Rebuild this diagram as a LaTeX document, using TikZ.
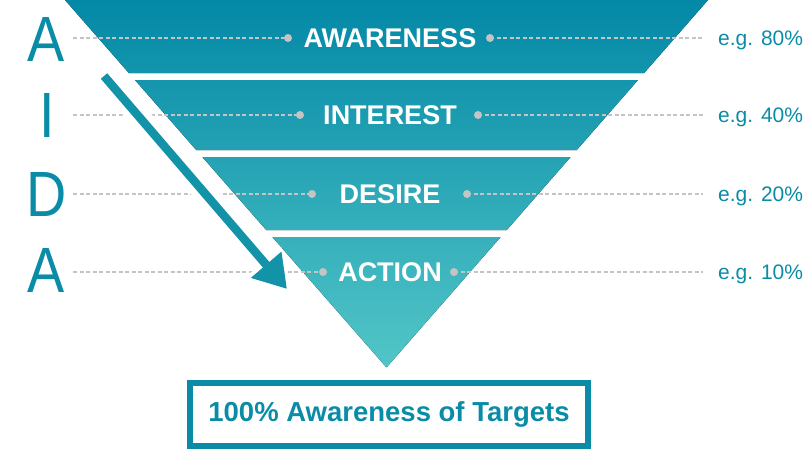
\documentclass[tikz,border=0pt]{standalone}
\usepackage{fontspec}
\setmainfont{Liberation Sans}
\usetikzlibrary{arrows.meta}

\definecolor{aidateal}{HTML}{0A8CA7}
\definecolor{sweepteal}{HTML}{1393A8}
\definecolor{funneltop}{HTML}{0388A6}
\definecolor{funnelbot}{HTML}{52C6C7}
\definecolor{guidegray}{HTML}{C4C4C4}

\begin{document}
\begin{tikzpicture}[x=1pt, y=-1pt,
    letter/.style={text=aidateal, text depth=0pt, xscale=0.87, font=\fontsize{64}{64}\selectfont},
    stage/.style={text=white, text depth=0pt, font=\fontsize{27}{27}\selectfont\bfseries},
    share/.style={text=aidateal, anchor=west, text depth=0pt, inner xsep=15pt, font=\fontsize{21}{21}\selectfont},
    guide/.style={guidegray, line width=1.6pt, dash pattern=on 4pt off 2.5pt},
    knob/.style={circle, fill=guidegray, inner sep=0pt, minimum size=8pt},
    sweepgap/.style={white, line width=22pt, -{Triangle[length=36pt,width=44pt]}},
    sweep/.style={sweepteal, line width=8.5pt, -{Triangle[length=32pt,width=38pt]}},
    goalbox/.style={draw=aidateal, line width=6pt, minimum width=398pt, minimum height=63pt,
        text=aidateal, font=\fontsize{27.5}{27.5}\selectfont\bfseries}]
    \useasboundingbox (0,0) rectangle (811,450);

    % funnel bands, one shading running down the whole funnel
    \foreach \top/\bot/\ct/\cb in {0/73/100/80, 80/150/78/59, 157/230/57/37, 237/367/35/0} {
        \fill[top color=funneltop!\ct!funnelbot, bottom color=funneltop!\cb!funnelbot]
            ({386.5-(321.5-0.875*\top)},\top) -- ({386.5+(321.5-0.875*\top)},\top)
            -- ({386.5+(321.5-0.875*\bot)},\bot) -- ({386.5-(321.5-0.875*\bot)},\bot) -- cycle;
    }

    % stages with their guide lines
    \foreach \i/\y/\xl/\xr/\word/\pct in {1/38/288/490/AWARENESS/80, 2/115/300/478/INTEREST/40,
                                        3/194/312/467/DESIRE/20, 4/272/323/454/ACTION/10} {
        \coordinate (lead-\i) at (73,\y);
        \node[knob] (knobL-\i) at (\xl,\y) {};
        \node[knob] (knobR-\i) at (\xr,\y) {};
        \node[share] (share-\i) at (703,\y) {e.g. \pct\%};
        \draw[guide] (lead-\i) -- (knobL-\i.center);
        \draw[guide] (knobR-\i.center) -- (share-\i.west);
        \node[stage] (stage-\i) at (390,\y) {\word};
    }

    \node[letter] (letterA) at (46,39) {A};
    \node[letter] (letterI) at (47,115) {I};
    \node[letter] (letterD) at (47,194) {D};
    \node[letter] (letterA2) at (46,270) {A};

    \coordinate (sweepS) at (104,76);
    \coordinate (sweepE) at (287,289);
    \draw[sweepgap] (sweepS) -- (sweepE);
    \draw[sweep] (sweepS) -- (sweepE);

    \node[goalbox] (goal) at (389,414.5) {100\% Awareness of Targets};
\end{tikzpicture}
\end{document}
